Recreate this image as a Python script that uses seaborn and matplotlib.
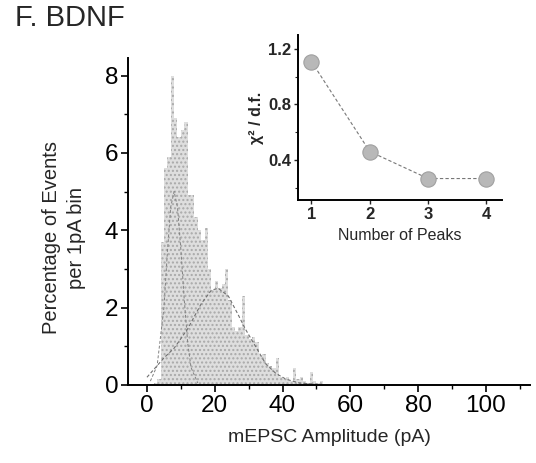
import numpy as np
import pandas as pd
import matplotlib
matplotlib.use("Agg")
import matplotlib.pyplot as plt
import seaborn as sns
from matplotlib.ticker import MultipleLocator

sns.set_theme(style="ticks")
plt.rcParams["font.family"] = ["Liberation Sans", "DejaVu Sans"]
plt.rcParams["hatch.linewidth"] = 1.0

# mEPSC amplitude histogram, 1 pA bins (left edges, pA) and percentage of events
bin_left = list(range(0, 53))
pct_events = [0, 0, 0.05, 0.15, 3.7, 5.6, 5.9, 8.0, 6.9, 6.4,
              6.6, 6.8, 4.9, 4.9, 4.35, 4.0, 3.75, 4.05, 3.0, 2.45,
              2.7, 2.5, 2.6, 3.0, 2.2, 1.5, 1.4, 1.5, 2.3, 1.3,
              1.2, 1.25, 1.1, 0.77, 0.8, 0.56, 0.5, 0.45, 0.7, 0.2,
              0.15, 0.2, 0.1, 0.43, 0.15, 0.2, 0.1, 0.05, 0.34, 0.1,
              0.05, 0.1, 0.0]

# Fitted components (pA, %)
fit1_x = [1, 3, 5, 6, 7, 8, 9, 10, 11, 12, 13, 15]
fit1_y = [0.1, 0.5, 2.0, 3.4, 4.6, 5.0, 4.6, 3.5, 2.2, 1.1, 0.45, 0.05]
fit2_x = [0, 2, 5, 8, 12, 16, 19, 21, 24, 27, 29, 32, 35, 38, 41, 45, 50]
fit2_y = [0.2, 0.4, 0.7, 0.95, 1.45, 2.1, 2.45, 2.5, 2.3, 1.8, 1.45, 1.0, 0.55, 0.3, 0.15, 0.05, 0.02]

# Goodness of fit vs number of Gaussian peaks
n_peaks = [1, 2, 3, 4]
chi2_df = [1.11, 0.46, 0.265, 0.265]

fig = plt.figure(figsize=(5.36, 4.63), dpi=100)
ax = fig.add_axes([0.2388, 0.1685, 0.750, 0.706])

hist_df = pd.DataFrame({"amp": [b + 0.5 for b in bin_left], "pct": pct_events})
sns.histplot(data=hist_df, x="amp", weights="pct", binwidth=1, binrange=(0, 53),
             facecolor="#dedede", edgecolor="#a9a9a9", linewidth=0, hatch="....",
             alpha=1.0, ax=ax)
sns.lineplot(x=fit1_x, y=fit1_y, ax=ax, color="#808080", lw=0.7, linestyle=(0, (3, 2)))
sns.lineplot(x=fit2_x, y=fit2_y, ax=ax, color="#707070", lw=0.8, linestyle=(0, (3, 2)))

ax.set_xlim(-5.6, 113)
ax.set_ylim(0, 8.45)
ax.xaxis.set_major_locator(MultipleLocator(20))
ax.xaxis.set_minor_locator(MultipleLocator(10))
ax.yaxis.set_major_locator(MultipleLocator(2))
ax.yaxis.set_minor_locator(MultipleLocator(1))
ax.tick_params(which="major", direction="out", length=5, width=1.2, labelsize=17.5, colors="black", pad=2)
ax.tick_params(which="minor", direction="out", length=3, width=1.0, colors="black")
for s in ("top", "right"):
    ax.spines[s].set_visible(False)
for s in ("left", "bottom"):
    ax.spines[s].set_linewidth(1.4)
    ax.spines[s].set_color("black")
ax.set_xlabel("mEPSC Amplitude (pA)", fontsize=14, va="center")
ax.xaxis.set_label_coords(0.5, -0.16)
ax.set_ylabel("Percentage of Events\nper 1pA bin", fontsize=14.5, linespacing=1.4, va="center")
ax.yaxis.set_label_coords(-0.16, 0.45)

fig.text(0.028, 0.961, "F. BDNF", fontsize=21, va="center", ha="left")

# inset
ins = fig.add_axes([0.556, 0.568, 0.381, 0.356])
sns.lineplot(x=n_peaks, y=chi2_df, ax=ins, color="#777777", lw=0.8,
             linestyle=(0, (3, 2)), marker="o", markersize=11,
             markerfacecolor="#b8b8b8", markeredgecolor="#a0a0a0", markeredgewidth=0.8)
ins.set_xlim(0.77, 4.27)
ins.set_ylim(0.11, 1.30)
ins.set_xticks(n_peaks)
ins.yaxis.set_major_locator(MultipleLocator(0.4))
ins.yaxis.set_minor_locator(MultipleLocator(0.2))
ins.tick_params(which="major", direction="out", length=3, width=1.0, labelsize=12, pad=2)
ins.tick_params(which="minor", direction="out", length=2, width=0.8)
for lab in ins.get_xticklabels() + ins.get_yticklabels():
    lab.set_fontweight("bold")
for s in ("top", "right"):
    ins.spines[s].set_visible(False)
for s in ("left", "bottom"):
    ins.spines[s].set_linewidth(1.4)
    ins.spines[s].set_color("black")
ins.set_xlabel("Number of Peaks", fontsize=11.5, labelpad=4)
ins.set_ylabel("χ² / d.f.", fontsize=11.5, fontweight="bold", labelpad=3)
ins.patch.set_alpha(0)

fig.savefig("out.png", dpi=100)
